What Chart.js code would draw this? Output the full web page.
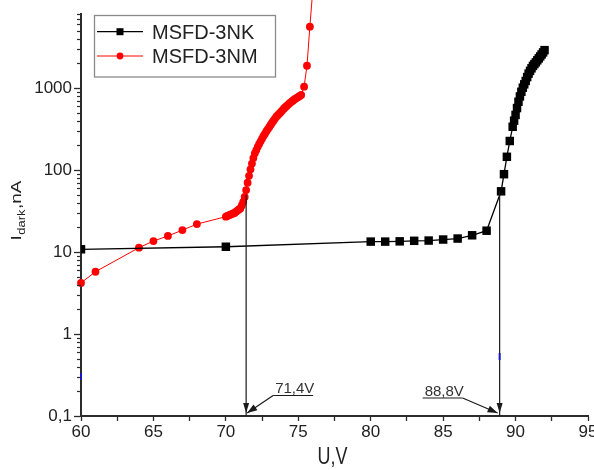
<!DOCTYPE html>
<html><head><meta charset="utf-8">
<script src="https://cdn.jsdelivr.net/npm/chart.js@4"></script>
<style>html,body{margin:0;padding:0;background:#fff}canvas{display:block}</style>
</head><body>
<canvas id="c" width="594" height="470"></canvas>
<script>
// ---- data ----
const nkLabel = 'MSFD-3NK';
const nkU = [60, 70, 80, 81, 82, 83, 84, 85, 86, 87, 88, 89.0, 89.2, 89.4, 89.6, 89.8,
  89.9, 90.0, 90.1, 90.2, 90.3, 90.4, 90.5, 90.6, 90.7, 90.8, 90.9, 91.0, 91.1, 91.2,
  91.3, 91.4, 91.5, 91.6, 91.7, 91.8, 91.9, 92.0];
const nkI = [10.8, 11.6, 13.4, 13.4, 13.5, 13.7, 13.8, 14.2, 14.6, 16.0, 18.2, 55, 89, 145, 226, 337,
  400, 470, 570, 680, 790, 900, 1010, 1110, 1220, 1360, 1500, 1620, 1740, 1860,
  1960, 2060, 2180, 2300, 2430, 2570, 2720, 2900];

const nmLabel = 'MSFD-3NM';
const nmU = [60, 61, 64, 65, 66, 67, 68,
  70.0, 70.1, 70.2, 70.3, 70.4, 70.5, 70.6, 70.7, 70.8, 70.9,
  71.0, 71.1, 71.2, 71.3, 71.4, 71.5, 71.6, 71.7, 71.8, 71.9,
  72.0, 72.1, 72.2, 72.3, 72.4, 72.5, 72.6, 72.7, 72.8, 72.9,
  73.0, 73.1, 73.2, 73.3, 73.4, 73.5, 73.6, 73.7, 73.8, 73.9,
  74.0, 74.1, 74.2, 74.3, 74.4, 74.5, 74.6, 74.7, 74.8, 74.9,
  75.0, 75.1, 75.2, 75.4, 75.6, 75.8, 76.0];
const nmI = [4.2, 5.75, 11.3, 13.6, 15.7, 18.5, 21.9,
  27, 27.5, 28, 28.5, 29, 29.5, 30, 31, 32, 33,
  34, 37, 41, 47, 57, 70, 85, 102, 120, 140,
  160, 175, 192, 208, 224, 242, 260, 278, 297, 316,
  335, 357, 380, 403, 427, 450, 470, 490, 512, 535,
  560, 583, 605, 628, 652, 675, 697, 720, 740, 760,
  780, 800, 822, 1040, 1870, 5600, 15600];

// breakdown voltage markers: voltage, current where the line stops, label
const markU = [71.4, 88.9];
const markTop = [50, 55];
const markText = ['71,4V', '88,8V'];

// small blue marks visible in the reference
const blueU = [60, 88.9];
const blueLo = [0.275, 0.482];
const blueHi = [0.334, 0.586];

// axes
const xMin = 60, xMax = 95, xStep = 2.5;
const xLabelled = [60, 65, 70, 75, 80, 85, 90, 95];
const yMin = 0.1, yMax = 8000;
const yMajor = [0.1, 1, 10, 100, 1000];
const yMajorLabels = ['0,1', '1', '10', '100', '1000'];
const yMinorSteps = [2, 3, 4, 5, 6, 7, 8, 9];
const xTitle = 'U,V';
const yTitleMain = 'I', yTitleSub = 'dark', yTitleRest = ',nA';

// ---- build chart ----
const FONT = '"Liberation Sans", Arial, sans-serif';
const AX = '#2b2b2b';
const pts = (us, vs) => us.map((u, i) => ({x: u, y: vs[i]}));

const datasets = [
  {label: nkLabel, data: pts(nkU, nkI), borderColor: '#000', backgroundColor: '#000', borderWidth: 1.3,
   pointStyle: 'rect', pointRadius: 6, pointBorderWidth: 0, pointBackgroundColor: '#000', order: 0},
  {label: nmLabel, data: pts(nmU, nmI), borderColor: '#ff0000', backgroundColor: '#ff0000', borderWidth: 1,
   pointStyle: 'circle', pointRadius: 3.9, pointBorderWidth: 0, pointBackgroundColor: '#ff0000', clip: false, order: 1}
];
markU.forEach((u, i) => datasets.push({label: '', data: [{x: u, y: yMin}, {x: u, y: markTop[i]}],
  borderColor: '#1a1a1a', borderWidth: 1.2, pointRadius: 0, order: -1}));
blueU.forEach((u, i) => datasets.push({label: '', data: [{x: u, y: blueLo[i]}, {x: u, y: blueHi[i]}],
  borderColor: '#1515d0', borderWidth: 2, pointRadius: 0, order: -2, clip: false}));

function arrowHead(ctx, x0, y0, x1, y1, len, half) {
  const a = Math.atan2(y1 - y0, x1 - x0);
  ctx.beginPath();
  ctx.moveTo(x1, y1);
  ctx.lineTo(x1 - len * Math.cos(a) + half * Math.sin(a), y1 - len * Math.sin(a) - half * Math.cos(a));
  ctx.lineTo(x1 - len * Math.cos(a) - half * Math.sin(a), y1 - len * Math.sin(a) + half * Math.cos(a));
  ctx.closePath();
  ctx.fill();
}

const extras = {
  id: 'extras',
  afterDraw(chart) {
    const {ctx, chartArea: ca, scales: {x, y}} = chart;
    ctx.save();
    // minor y ticks
    ctx.strokeStyle = AX; ctx.lineWidth = 1.2;
    y.ticks.forEach(t => {
      if (!t.major) {
        const py = Math.round(y.getPixelForValue(t.value)) + 0.5;
        ctx.beginPath(); ctx.moveTo(ca.left - 4, py); ctx.lineTo(ca.left, py); ctx.stroke();
      }
    });
    // marker arrows and labels
    const base = y.getPixelForValue(yMin);
    ctx.fillStyle = '#1a1a1a'; ctx.strokeStyle = '#1a1a1a'; ctx.lineWidth = 1.2;
    markU.forEach((u, i) => {
      const px = x.getPixelForValue(u);
      const tip = base - 3;
      arrowHead(ctx, px, tip - 20, px, tip, 10, 3);
      const right = i === 0;
      const ux0 = right ? px + 27 : px - 77;
      const ux1 = ux0 + 40;
      const uy = right ? tip - 17.5 : tip - 15;
      ctx.beginPath(); ctx.moveTo(ux0, uy); ctx.lineTo(ux1, uy); ctx.stroke();
      const sx = right ? ux0 : ux1;
      const ex = right ? px + 1 : px - 2;
      ctx.beginPath(); ctx.moveTo(sx, uy); ctx.lineTo(ex, tip); ctx.stroke();
      arrowHead(ctx, sx, uy, ex, tip, 10, 3.5);
      ctx.font = '15px ' + FONT; ctx.fillStyle = '#333'; ctx.textAlign = 'left'; ctx.textBaseline = 'alphabetic';
      ctx.fillText(markText[i], ux0 + 2, uy - 2.5);
      ctx.fillStyle = '#1a1a1a';
    });
    // legend
    const lx = ca.left + 13, ly = ca.top + 1;
    ctx.strokeStyle = '#8a8a8a'; ctx.lineWidth = 1.3;
    ctx.strokeRect(lx + 0.5, ly + 0.5, 181, 61.5);
    [0, 1].forEach(k => {
      const ds = chart.data.datasets[k];
      const ry = ly + 16.7 + k * 24.3;
      ctx.strokeStyle = ds.borderColor; ctx.lineWidth = ds.borderWidth;
      ctx.beginPath(); ctx.moveTo(lx + 3, ry); ctx.lineTo(lx + 49, ry); ctx.stroke();
      ctx.fillStyle = ds.pointBackgroundColor;
      if (ds.pointStyle === 'rect') { ctx.fillRect(lx + 26 - 3.5, ry - 3.5, 7, 7); }
      else { ctx.beginPath(); ctx.arc(lx + 26, ry, 3.4, 0, Math.PI * 2); ctx.fill(); }
      ctx.fillStyle = '#222'; ctx.font = '20px ' + FONT; ctx.textAlign = 'left'; ctx.textBaseline = 'alphabetic';
      ctx.fillText(ds.label, lx + 58, ry + 7);
    });
    // x title
    ctx.save();
    ctx.translate((ca.left + ca.right) / 2 - 2, 463.5);
    ctx.scale(0.78, 1);
    ctx.font = '23px ' + FONT; ctx.fillStyle = '#222'; ctx.textAlign = 'center';
    ctx.fillText(xTitle, 0, 0);
    ctx.restore();
    // y title with subscript
    ctx.save();
    ctx.translate(21, (ca.top + ca.bottom) / 2 - 4);
    ctx.rotate(-Math.PI / 2);
    ctx.scale(1, 0.78);
    ctx.fillStyle = '#222'; ctx.textAlign = 'left';
    ctx.font = '19px ' + FONT; const w1 = ctx.measureText(yTitleMain).width; const w3 = ctx.measureText(yTitleRest).width;
    ctx.font = '13px ' + FONT; const w2 = ctx.measureText(yTitleSub).width;
    const s = -(w1 + w2 + w3) / 2;
    ctx.font = '19px ' + FONT; ctx.fillText(yTitleMain, s, 0);
    ctx.font = '13px ' + FONT; ctx.fillText(yTitleSub, s + w1 + 0.5, 5);
    ctx.font = '19px ' + FONT; ctx.fillText(yTitleRest, s + w1 + w2 + 1, 0);
    ctx.restore();
    ctx.restore();
  }
};

new Chart(document.getElementById('c'), {
  type: 'line',
  data: {datasets},
  options: {
    responsive: false, devicePixelRatio: 1, animation: false, events: [],
    layout: {padding: {top: 14, right: 5, left: 0, bottom: 0}},
    plugins: {legend: {display: false}, tooltip: {enabled: false}},
    scales: {
      x: {
        type: 'linear', min: xMin, max: xMax,
        afterFit(s) { s.height = 54; s.paddingLeft = 0; s.paddingRight = 0; },
        ticks: {stepSize: xStep, autoSkip: false, maxRotation: 0, padding: 1,
          font: {family: FONT, size: 17}, color: '#222',
          callback: v => xLabelled.includes(v) ? String(v) : ''},
        grid: {drawOnChartArea: false, drawTicks: true, tickLength: 5, tickWidth: 1.3, tickColor: AX},
        border: {display: true, color: AX, width: 2}
      },
      y: {
        type: 'logarithmic', min: yMin, max: yMax,
        afterFit(s) { s.width = 81; s.paddingTop = 0; s.paddingBottom = 0; },
        afterBuildTicks(s) {
          const t = [];
          yMajor.forEach(m => {
            t.push({value: m, major: true});
            yMinorSteps.forEach(k => { const v = m * k; if (v <= yMax) t.push({value: v, major: false}); });
          });
          s.ticks = t;
        },
        ticks: {autoSkip: false, padding: 2, font: {family: FONT, size: 17}, color: '#222',
          callback: v => { const i = yMajor.findIndex(m => Math.abs(m - v) < 1e-9 * m); return i >= 0 ? yMajorLabels[i] : ''; }},
        grid: {drawOnChartArea: false, drawTicks: true, tickLength: 7, tickWidth: 1.3,
          tickColor: c => (c.tick && c.tick.major) ? AX : 'rgba(0,0,0,0)'},
        border: {display: true, color: AX, width: 2}
      }
    }
  },
  plugins: [extras]
});
</script>
</body></html>
